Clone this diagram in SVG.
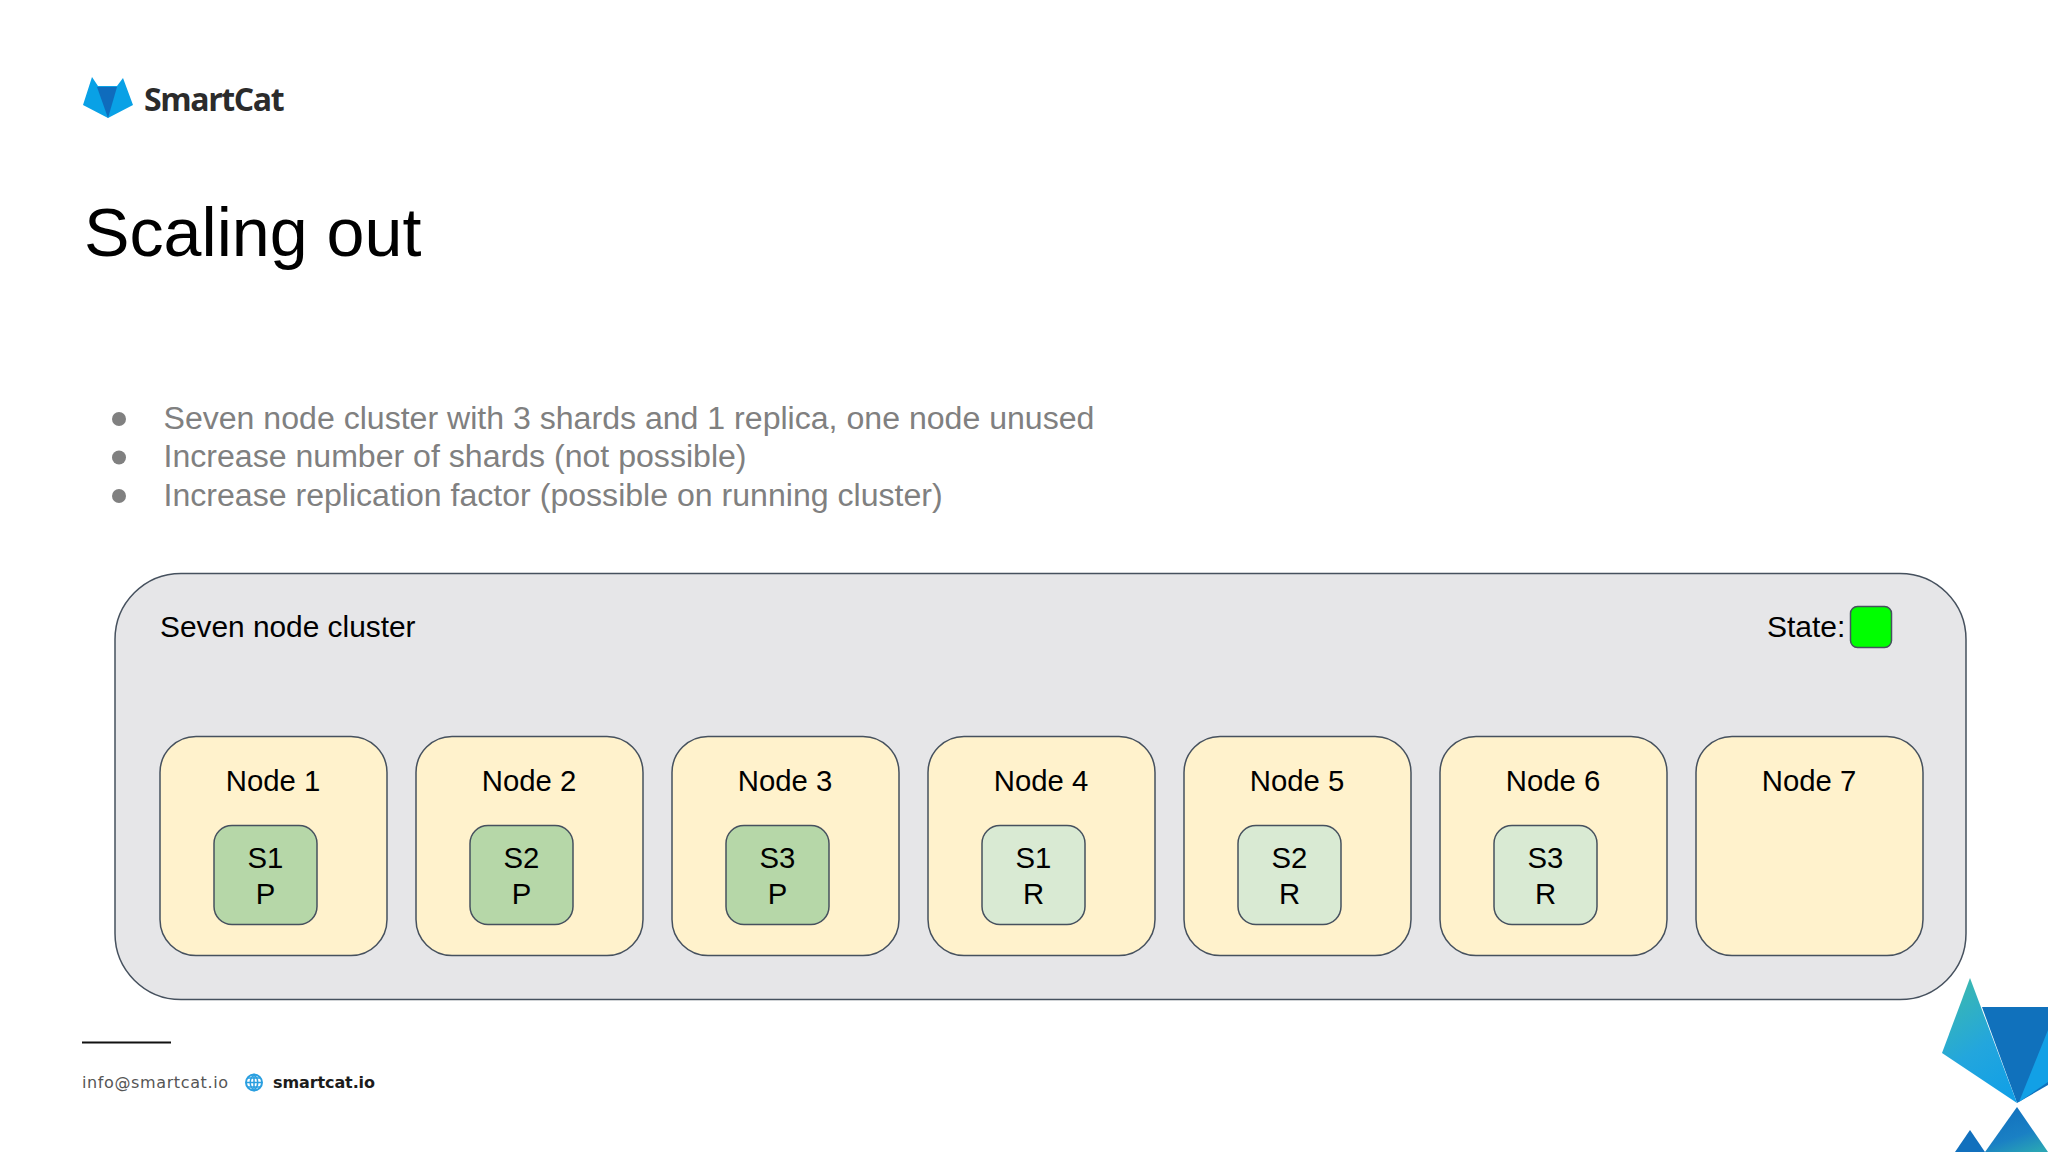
<svg xmlns="http://www.w3.org/2000/svg" width="2048" height="1152" viewBox="0 0 2048 1152">
<style>
text{font-family:"Liberation Sans",Arial,sans-serif;fill:#000}
.n{font-size:29.3px;text-anchor:middle}
.b{font-size:32.1px;fill:#808080}
.node{fill:#fff2cc;stroke:#46515e;stroke-width:1.5}
.p{fill:#b6d7a8;stroke:#46515e;stroke-width:1.5}
.r{fill:#d9ead3;stroke:#46515e;stroke-width:1.5}
</style>
<defs>
<linearGradient id="g1" x1="0.3" y1="0" x2="0.7" y2="1"><stop offset="0" stop-color="#3bb8b0"/><stop offset="0.55" stop-color="#23a6dd"/><stop offset="1" stop-color="#12a0e6"/></linearGradient>
<linearGradient id="g2" x1="0.3" y1="0" x2="0.8" y2="1"><stop offset="0" stop-color="#1170bd"/><stop offset="0.6" stop-color="#1a80c4"/><stop offset="1" stop-color="#2aa5b5"/></linearGradient>
</defs>
<rect width="2048" height="1152" fill="#fff"/>
<g id="logo">
<path d="M92 77 L98 86 H117 L123 78 L133 105 L108 118 L83 105 Z" fill="#09a1e6"/>
<path d="M97 87 H117 L108 118 Z" fill="#0f6cbd"/>
<text x="144" y="111" style="font-family:'Open Sans','Liberation Sans',sans-serif;font-size:32px;font-weight:700;fill:#2b2b2b;letter-spacing:-1.4px">SmartCat</text>
</g>
<text x="84" y="256" style="font-size:68.2px">Scaling out</text>
<g id="bullets">
<circle cx="119" cy="419" r="7" fill="#808080"/><text class="b" x="163.500" y="429">Seven node cluster with 3 shards and 1 replica, one node unused</text>
<circle cx="119" cy="457.500" r="7" fill="#808080"/><text class="b" x="163.500" y="467">Increase number of shards (not possible)</text>
<circle cx="119" cy="496" r="7" fill="#808080"/><text class="b" x="163.500" y="505.500">Increase replication factor (possible on running cluster)</text>
</g>
<g id="cluster">
<rect x="115" y="573.500" width="1851" height="426" rx="66" fill="#e6e6e8" stroke="#46515e" stroke-width="1.500"/>
<text x="160" y="637" style="font-size:29.85px">Seven node cluster</text>
<text x="1767" y="637" style="font-size:30px">State:</text>
<rect x="1850.500" y="606.500" width="41" height="41" rx="7" fill="#00ff00" stroke="#46515e" stroke-width="1.500"/>
</g>
<g id="node1"><rect class="node" x="160" y="736.500" width="227" height="219" rx="36"/><text class="n" x="273" y="791">Node 1</text></g>
<g id="node2"><rect class="node" x="416" y="736.500" width="227" height="219" rx="36"/><text class="n" x="529" y="791">Node 2</text></g>
<g id="node3"><rect class="node" x="672" y="736.500" width="227" height="219" rx="36"/><text class="n" x="785" y="791">Node 3</text></g>
<g id="node4"><rect class="node" x="928" y="736.500" width="227" height="219" rx="36"/><text class="n" x="1041" y="791">Node 4</text></g>
<g id="node5"><rect class="node" x="1184" y="736.500" width="227" height="219" rx="36"/><text class="n" x="1297" y="791">Node 5</text></g>
<g id="node6"><rect class="node" x="1440" y="736.500" width="227" height="219" rx="36"/><text class="n" x="1553" y="791">Node 6</text></g>
<g id="node7"><rect class="node" x="1696" y="736.500" width="227" height="219" rx="36"/><text class="n" x="1809" y="791">Node 7</text></g>
<g id="s1p"><rect class="p" x="214" y="825.500" width="103" height="99" rx="18"/><text class="n" x="265.500" y="868">S1</text><text class="n" x="265.500" y="903.500">P</text></g>
<g id="s2p"><rect class="p" x="470" y="825.500" width="103" height="99" rx="18"/><text class="n" x="521.500" y="868">S2</text><text class="n" x="521.500" y="903.500">P</text></g>
<g id="s3p"><rect class="p" x="726" y="825.500" width="103" height="99" rx="18"/><text class="n" x="777.500" y="868">S3</text><text class="n" x="777.500" y="903.500">P</text></g>
<g id="s1r"><rect class="r" x="982" y="825.500" width="103" height="99" rx="18"/><text class="n" x="1033.500" y="868">S1</text><text class="n" x="1033.500" y="903.500">R</text></g>
<g id="s2r"><rect class="r" x="1238" y="825.500" width="103" height="99" rx="18"/><text class="n" x="1289.500" y="868">S2</text><text class="n" x="1289.500" y="903.500">R</text></g>
<g id="s3r"><rect class="r" x="1494" y="825.500" width="103" height="99" rx="18"/><text class="n" x="1545.500" y="868">S3</text><text class="n" x="1545.500" y="903.500">R</text></g>
<g id="footer">
<rect x="82" y="1041.500" width="89" height="2" fill="#111"/>
<text x="82" y="1088" textLength="146" style="font-family:'DejaVu Sans',sans-serif;font-size:16px;fill:#555">info@smartcat.io</text>
<circle cx="254" cy="1082.500" r="8" fill="none" stroke="#2a9fe0" stroke-width="2"/>
<path d="M246 1082.500H262M254 1074.500V1090.500M248 1078H260M248 1087H260" stroke="#2a9fe0" stroke-width="1.500" fill="none"/>
<path d="M254 1074.500C249 1079 249 1086 254 1090.500C259 1086 259 1079 254 1074.500Z" stroke="#2a9fe0" stroke-width="1.500" fill="none"/>
<text x="273" y="1088" textLength="102" style="font-family:'DejaVu Sans',sans-serif;font-size:16px;font-weight:700;fill:#1c1c1c">smartcat.io</text>
</g>
<g id="corner">
<path d="M1982 1007 H2048 V1085 L2017 1103 Z" fill="#1071bc"/>
<path d="M1970 978 L2017 1103 L1942 1053 Z" fill="url(#g1)"/>
<path d="M2048 1030 V1082 L2019 1102 Z" fill="#12a0e6"/>
<path d="M2017 1107 L2048 1152 H1985 Z" fill="url(#g2)"/>
<path d="M1970 1130 L1985 1152 H1955 Z" fill="#1170bd"/>
</g>
</svg>
